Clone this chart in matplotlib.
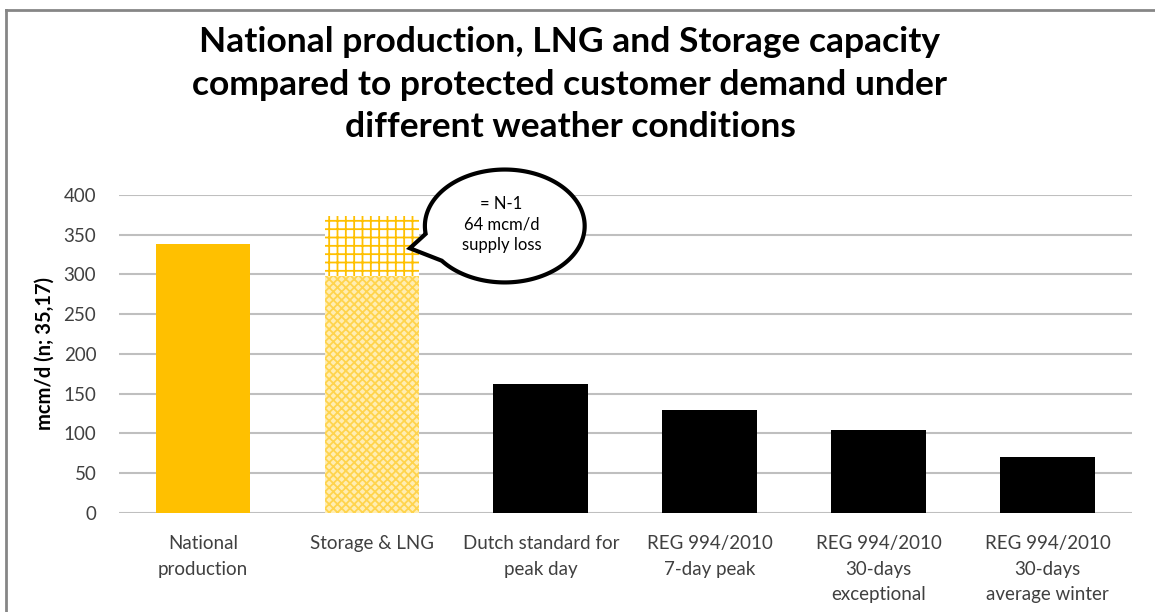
import matplotlib
matplotlib.use('Agg')
import matplotlib.pyplot as plt
from matplotlib.patches import Polygon
from matplotlib.lines import Line2D
import numpy as np

categories = ['National\nproduction', 'Storage & LNG', 'Dutch standard for\npeak day',
              'REG 994/2010\n7-day peak', 'REG 994/2010\n30-days\nexceptional',
              'REG 994/2010\n30-days\naverage winter']
base_values = [338, 298, 162, 130, 104, 70]
n1_loss = [0, 75, 0, 0, 0, 0]   # hatched part on top of storage
yticks = [0, 50, 100, 150, 200, 250, 300, 350, 400]

plt.rcParams['font.family'] = ['Lato', 'DejaVu Sans']
plt.rcParams['hatch.linewidth'] = 1.3

fig = plt.figure(figsize=(11.55, 6.12), dpi=100)
ax = fig.add_axes([0.1026, 0.1618, 0.8774, 0.5196])

x = np.arange(len(categories))
w = 0.56
cols = ['#FFC000', '#FFE08A', 'black', 'black', 'black', 'black']
for i in range(len(categories)):
    if i == 1:
        ax.bar(x[i], base_values[i], w, color='#FFEDB3', hatch='xxxx',
               edgecolor='#FFD44D', linewidth=0, zorder=3)
    else:
        ax.bar(x[i], base_values[i], w, color=cols[i], linewidth=0, zorder=3)
    if n1_loss[i]:
        ax.bar(x[i], n1_loss[i], w, bottom=base_values[i], color='white',
               hatch='++', edgecolor='#FFC000', linewidth=0, zorder=3)

ax.set_ylim(0, 400)
ax.set_xlim(-0.5, len(categories) - 0.5)
ax.set_yticks(yticks)
ax.yaxis.grid(True, color='#BFBFBF', linewidth=1.5, zorder=0)
ax.set_axisbelow(True)
for s in ax.spines.values():
    s.set_visible(False)
ax.tick_params(length=0, labelsize=13.5, colors='#404040')
ax.tick_params(axis='y', pad=16)
ax.tick_params(axis='x', pad=16)
ax.set_xticks(x)
ax.set_xticklabels(categories, linespacing=1.6)
ax.set_ylabel('mcm/d (n; 35,17)', fontsize=14.5, fontweight='bold', labelpad=6)

# speech bubble
cx, cy, rx, ry = 1.787, 361, 0.473, 71
t = np.radians(np.linspace(218, 188 + 360, 200))
pts = list(zip(cx + rx * np.cos(t), cy + ry * np.sin(t)))
pts.append((1.225, 333))
bubble = Polygon(pts, closed=True, facecolor='white', edgecolor='black',
                 linewidth=3, zorder=5, clip_on=False, joinstyle='miter')
ax.add_patch(bubble)
ax.text(cx - 0.02, cy + 2, '= N-1\n64 mcm/d\nsupply loss', ha='center', va='center',
        fontsize=12, linespacing=1.35, zorder=6)

fig.text(0.4935, 0.957, 'National production, LNG and Storage capacity\n'
         'compared to protected customer demand under\ndifferent weather conditions',
         ha='center', va='top', fontsize=25.5, fontweight='bold', linespacing=1.4)

# chart frame (top and left edges visible)
fy = 1 - 10 / 612
fx = 6 / 1155
fig.lines.append(Line2D([fx, 1.0], [fy, fy], transform=fig.transFigure,
                        color='#868686', linewidth=2))
fig.lines.append(Line2D([fx, fx], [0, fy], transform=fig.transFigure,
                        color='#868686', linewidth=2))

fig.savefig('out.png', dpi=100)
